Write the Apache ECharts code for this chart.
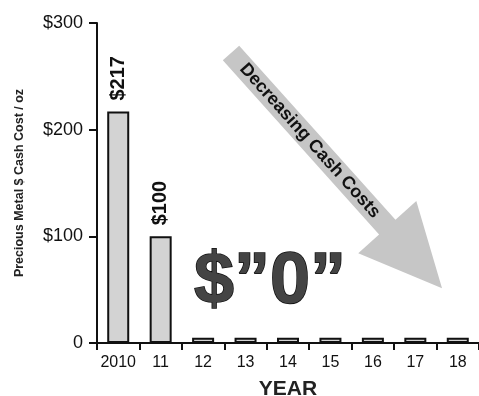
<!DOCTYPE html>
<html>
<head>
<meta charset="utf-8">
<script src="https://cdn.jsdelivr.net/npm/echarts@6/dist/echarts.min.js"></script>
<style>
html,body{margin:0;padding:0;background:#fff;}
#chart{width:479px;height:396px;}
</style>
</head>
<body>
<div id="chart"></div>
<script>
const categories = ['2010', '11', '12', '13', '14', '15', '16', '17', '18'];
const cashCost = [217, 100, 5, 5, 5, 5, 5, 5, 5];
const yMax = 300;
const yStep = 100;
const yTitle = 'Precious Metal $ Cash Cost / oz';
const xTitle = 'YEAR';
const bigText = '$\u201D0\u201D';
const arrowText = 'Decreasing Cash Costs';

const FONT = '"Liberation Sans", Arial, Helvetica, sans-serif';
const chart = echarts.init(document.getElementById('chart'));

// arrow in local coordinates (x along arrow direction)
const shaftLen = 234, shaftHalf = 11, headHalf = 39, tipLen = 316;
const arrowPts = [[0, -shaftHalf], [shaftLen, -shaftHalf], [shaftLen, -headHalf], [tipLen, 0],
  [shaftLen, headHalf], [shaftLen, shaftHalf], [0, shaftHalf]];

chart.setOption({
  backgroundColor: '#ffffff',
  animation: false,
  grid: { left: 97, right: 0, top: 23, bottom: 53, containLabel: false, outerBoundsMode: 'none' },
  xAxis: {
    type: 'category',
    data: categories,
    boundaryGap: true,
    name: xTitle,
    nameLocation: 'middle',
    nameGap: 36,
    nameTextStyle: { fontFamily: FONT, fontSize: 21, fontWeight: 'bold', color: '#222' },
    axisLine: { lineStyle: { color: '#111', width: 2 } },
    axisTick: { show: true, alignWithLabel: false, interval: 0, length: 7, lineStyle: { color: '#111', width: 2 } },
    axisLabel: { interval: 0, fontFamily: FONT, fontSize: 16, color: '#111', margin: 12 }
  },
  yAxis: {
    type: 'value',
    min: 0,
    max: yMax,
    interval: yStep,
    name: yTitle,
    nameLocation: 'middle',
    nameGap: 71,
    nameTextStyle: { fontFamily: FONT, fontSize: 12.5, fontWeight: 'bold', color: '#222' },
    axisLine: { show: true, lineStyle: { color: '#111', width: 2 } },
    axisTick: { show: true, length: 8, lineStyle: { color: '#111', width: 2 } },
    splitLine: { show: false },
    axisLabel: {
      fontFamily: FONT, fontSize: 18, color: '#111', margin: 14,
      formatter: v => v === 0 ? '0' : '$' + v
    }
  },
  series: [{
    type: 'bar',
    data: cashCost,
    barWidth: 22,
    itemStyle: { color: '#d3d3d3', borderColor: '#111', borderWidth: 2 },
    label: {
      show: true,
      position: 'top',
      rotate: 90,
      align: 'left',
      verticalAlign: 'middle',
      distance: 11,
      fontFamily: FONT,
      fontSize: 20,
      fontWeight: 'bold',
      color: '#111',
      formatter: p => p.value >= 50 ? '$' + p.value : ''
    }
  }],
  graphic: [
    {
      type: 'group',
      x: 231, y: 53,
      rotation: -48.1 * Math.PI / 180,
      children: [
        {
          type: 'polygon',
          shape: { points: arrowPts },
          style: { fill: '#c6c6c6', stroke: null }
        },
        {
          type: 'text',
          x: 118, y: 0,
          style: {
            text: arrowText,
            font: 'bold 18px ' + FONT,
            fill: '#111',
            textAlign: 'center',
            textVerticalAlign: 'middle'
          }
        }
      ]
    },
    {
      type: 'text',
      x: 270, y: 319,
      style: {
        text: bigText,
        font: 'bold 72px ' + FONT,
        fill: '#444444',
        stroke: '#111',
        lineWidth: 1.5,
        textAlign: 'center',
        textVerticalAlign: 'bottom'
      }
    }
  ]
});
</script>
</body>
</html>
